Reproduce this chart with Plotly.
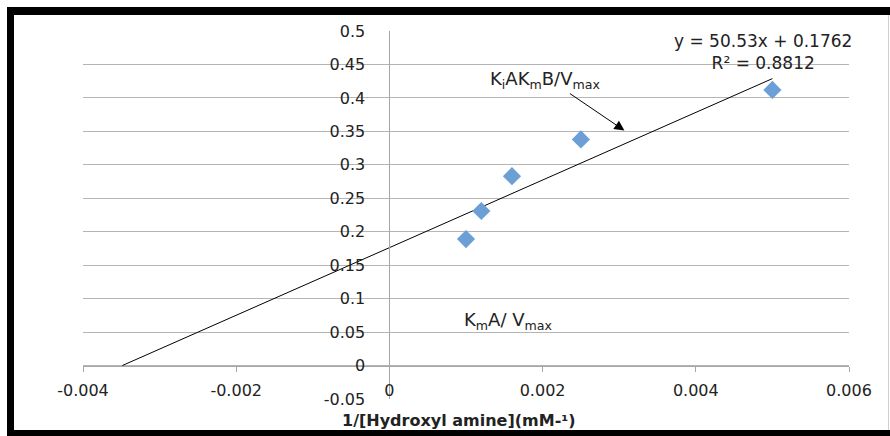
import plotly.graph_objects as go

# ---- data ----
inv_conc = [0.001, 0.0012, 0.0016, 0.0025, 0.005]
inv_rate = [0.189, 0.231, 0.283, 0.338, 0.412]
slope = 50.53
intercept = 0.1762
r_squared = 0.8812
trend_x = [-intercept / slope, 0.005]
trend_y = [slope * x + intercept for x in trend_x]

x_tickvals = [-0.004, -0.002, 0, 0.002, 0.004, 0.006]
x_ticktext = ["-0.004", "-0.002", "0", "0.002", "0.004", "0.006"]
y_tickvals = [-0.05, 0, 0.05, 0.1, 0.15, 0.2, 0.25, 0.3, 0.35, 0.4, 0.45, 0.5]
y_ticktext = ["-0.05", "0", "0.05", "0.1", "0.15", "0.2", "0.25", "0.3", "0.35", "0.4", "0.45", "0.5"]

# ---- layout geometry ----
W, H = 890, 436
L, R, T, B = 83, 41, 31, 37
PW, PH = W - L - R, H - T - B


def px_x(p):
    return (p - L) / PW


def px_y(p):
    return (H - B - p) / PH


FONT = "DejaVu Sans"

fig = go.Figure()
fig.add_trace(go.Scatter(
    x=trend_x, y=trend_y, mode="lines",
    line=dict(color="black", width=1), showlegend=False, hoverinfo="skip"))
fig.add_trace(go.Scatter(
    x=inv_conc, y=inv_rate, mode="markers",
    marker=dict(symbol="diamond", size=14, color="#6c9fd6"),
    showlegend=False))

fig.update_layout(
    width=W, height=H,
    margin=dict(l=L, r=R, t=T, b=B),
    paper_bgcolor="white", plot_bgcolor="white",
    font=dict(family=FONT, size=16, color="#222222"),
    xaxis=dict(
        range=[-0.004, 0.006], tickvals=x_tickvals, ticktext=x_ticktext,
        showgrid=False, zeroline=False,
        showline=True, linecolor="#a6a6a6", linewidth=1,
        ticks="outside", ticklen=5, tickcolor="#a6a6a6",
        anchor="free", position=0.05 / 0.55,
        ticklabelstandoff=5,
    ),
    yaxis=dict(
        range=[-0.05, 0.5], tickvals=y_tickvals, ticktext=y_ticktext,
        showgrid=True, gridcolor="#b5b5b5", gridwidth=1,
        zeroline=False,
        showline=True, linecolor="#a6a6a6", linewidth=1,
        ticks="", anchor="free", position=0.4,
        ticklabelstandoff=21,
    ),
    annotations=[
        dict(x=0.004877, y=0.468, xref="x", yref="y", showarrow=False,
             text=f"y = {slope}x + {intercept}<br>R² = {r_squared}",
             align="center", font=dict(size=17)),
        dict(x=0.003068, y=0.3512, xref="x", yref="y", text="",
             showarrow=True, arrowhead=2, arrowsize=2, arrowwidth=1,
             arrowcolor="black", ax=-56, ay=-38),
        dict(x=0.00129, y=0.427, xref="x", yref="y", showarrow=False,
             xanchor="left", yanchor="middle",
             text="K<sub>i</sub>AK<sub>m</sub>B/V<sub>max</sub>",
             font=dict(size=18)),
        dict(x=0.00095, y=0.067, xref="x", yref="y", showarrow=False,
             xanchor="left", yanchor="middle",
             text="K<sub>m</sub>A/ V<sub>max</sub>",
             font=dict(size=18)),
        dict(x=px_x(458.5), y=px_y(420), xref="paper", yref="paper",
             showarrow=False, xanchor="center", yanchor="middle",
             text="<b>1/[Hydroxyl amine](mM-¹)</b>",
             font=dict(size=16)),
    ],
)

# page frame (thick black on left/top/bottom, right edge cut off as in the source image)
frame_js = (
    "document.body.style.margin='0';"
    "document.body.style.overflow='hidden';"
    "var f=document.createElement('div');"
    "f.style.cssText='position:fixed;left:7px;top:7px;width:1000px;height:429px;"
    "box-sizing:border-box;border-left:7px solid #000;border-top:8px solid #000;"
    "border-bottom:6px solid #000;pointer-events:none;z-index:10;';"
    "document.body.appendChild(f);"
    "var g=document.createElement('div');"
    "g.style.cssText='position:fixed;left:888px;top:15px;width:1px;height:415px;"
    "background:#cfcfcf;pointer-events:none;z-index:10;';"
    "document.body.appendChild(g);"
)

fig.write_html("out.html", config={"displayModeBar": False}, post_script=frame_js)
